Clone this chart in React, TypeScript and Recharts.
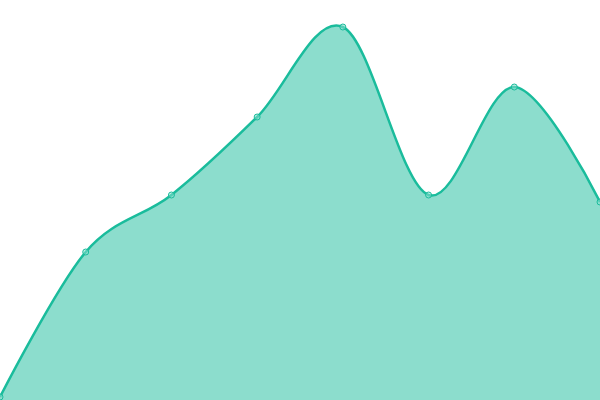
import React from 'react';
import {AreaChart, Area, XAxis, YAxis} from 'recharts';

const categories = ['A', 'B', 'C', 'D', 'E', 'F', 'G', 'H'];
const values = [3, 148, 205, 283, 373, 205, 313, 198];

const data = categories.map((name, i) => ({name, value: values[i]}));

// cardinal spline (tension 0 = catmull-rom), same as d3's curveCardinal
function cardinalPoint(that: any, x: number, y: number) {
    that._context.bezierCurveTo(
        that._x1 + that._k * (that._x2 - that._x0),
        that._y1 + that._k * (that._y2 - that._y0),
        that._x2 + that._k * (that._x1 - x),
        that._y2 + that._k * (that._y1 - y),
        that._x2,
        that._y2
    );
}

class Cardinal {
    _context: any;
    _k: number;
    _line: number = NaN;
    _point = 0;
    _x0 = NaN; _x1 = NaN; _x2 = NaN;
    _y0 = NaN; _y1 = NaN; _y2 = NaN;

    constructor(context: any, tension: number) {
        this._context = context;
        this._k = (1 - tension) / 6;
    }
    areaStart() { this._line = 0; }
    areaEnd() { this._line = NaN; }
    lineStart() {
        this._x0 = this._x1 = this._x2 = this._y0 = this._y1 = this._y2 = NaN;
        this._point = 0;
    }
    lineEnd() {
        switch (this._point) {
            case 2: this._context.lineTo(this._x2, this._y2); break;
            case 3: cardinalPoint(this, this._x1, this._y1); break;
        }
        if (this._line || (this._line !== 0 && this._point === 1)) this._context.closePath();
        this._line = 1 - this._line;
    }
    point(x: number, y: number) {
        x = +x; y = +y;
        switch (this._point) {
            case 0: this._point = 1; this._line ? this._context.lineTo(x, y) : this._context.moveTo(x, y); break;
            case 1: this._point = 2; this._x1 = x; this._y1 = y; break;
            case 2: this._point = 3; cardinalPoint(this, x, y); break;
            default: cardinalPoint(this, x, y); break;
        }
        this._x0 = this._x1; this._x1 = this._x2; this._x2 = x;
        this._y0 = this._y1; this._y1 = this._y2; this._y2 = y;
    }
}

const cardinalCurve = (context: any) => new Cardinal(context, 0);

const App = () => {
    React.useEffect(() => {
        document.body.style.margin = '0';
    }, []);

    return (
        <div style={{width: 600, height: 400, background: '#fff'}}>
            <AreaChart width={600} height={400} data={data} margin={{top: 0, right: 0, bottom: 0, left: 0}}>
                <XAxis dataKey="name" hide padding={{left: 0, right: 0}} />
                <YAxis hide domain={[0, 400]} />
                <Area
                    type={cardinalCurve as any}
                    dataKey="value"
                    stroke="#1abc9c"
                    strokeWidth={2.5}
                    fill="#1abc9c"
                    fillOpacity={0.5}
                    dot={{r: 3, fill: '#8ce0cf', stroke: '#1abc9c', strokeWidth: 1}}
                    activeDot={false}
                    isAnimationActive={false}
                />
            </AreaChart>
        </div>
    );
};

export default App;
